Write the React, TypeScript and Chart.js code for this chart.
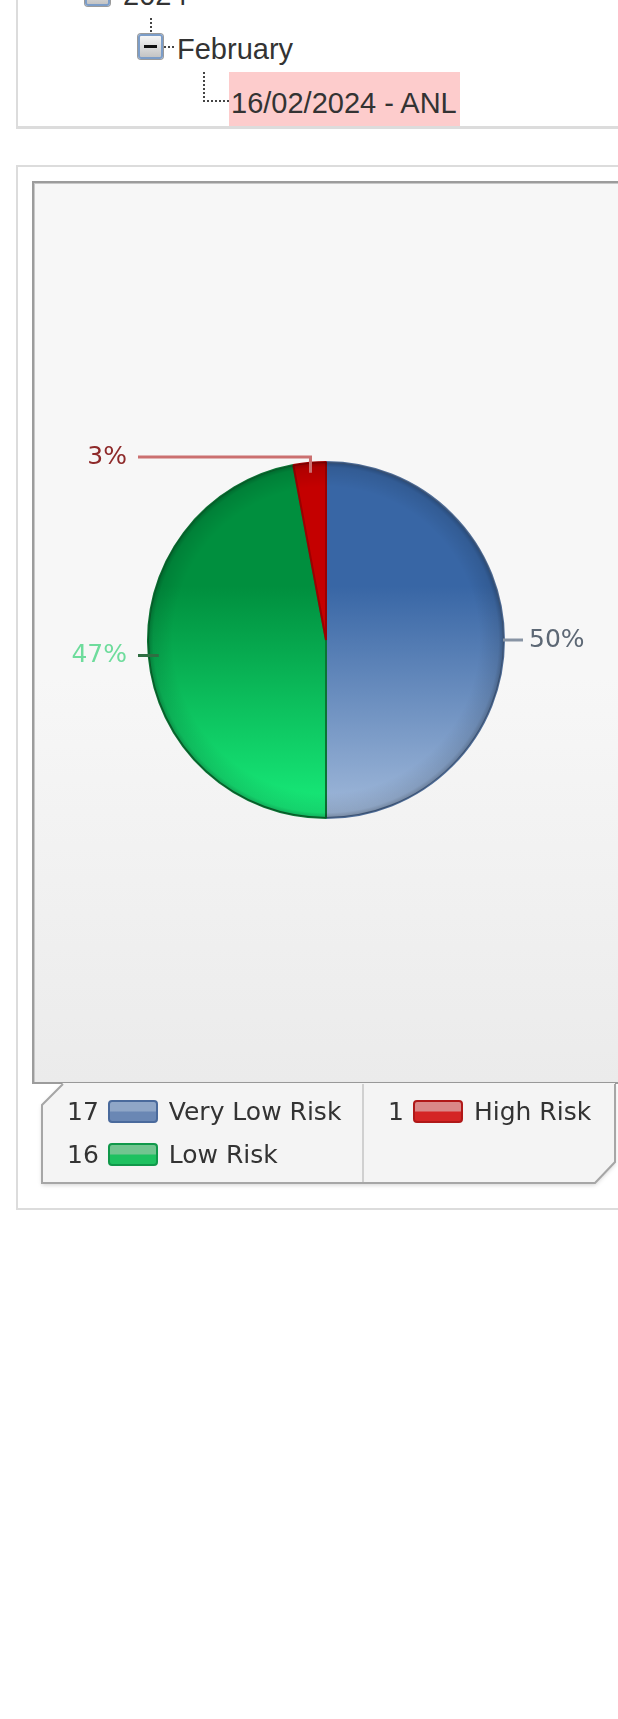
import React, { useEffect, useRef } from "react";
import { Chart, registerables } from "chart.js";

Chart.register(...registerables);

// ---- data ----
const categories = ["Very Low Risk", "Low Risk", "High Risk"];
const counts = [17, 16, 1];
const sliceTop = ["#3866a5", "#008f3e", "#c40000"];
const sliceBottom = ["#a2badb", "#18ee7b", "#dc0c0c"];
const sliceBorder = ["#4e6c97", "#0b7434", "#9c0000"];
const labelColors = ["#5d6875", "#6edc9c", "#8e2a2a"];
const leaderColors = ["#8894a4", "#2f6e42", "#cb7070"];
const swatchLight = ["#8fa6c7", "#72c590", "#da8888"];
const swatchDark = ["#6a87b4", "#1ec160", "#d42424"];
const swatchBorder = ["#4a6a9c", "#10984a", "#b01818"];
const legendColumns = [[0, 1], [2]];
const treeYear = "2024";
const treeMonth = "February";
const treeEntry = "16/02/2024 - ANL";

const labelFont = "25px 'DejaVu Sans'";

const pieDecor = {
  id: "pieDecor",
  afterDatasetsDraw(chart: any) {
    const meta = chart.getDatasetMeta(0);
    const arcs = meta.data;
    if (!arcs.length) return;
    const ctx = chart.ctx;
    const cx = arcs[0].x;
    const cy = arcs[0].y;
    const r = arcs[0].outerRadius;
    // edge shading
    ctx.save();
    ctx.beginPath();
    ctx.arc(cx, cy, r, 0, Math.PI * 2);
    ctx.clip();
    const g = ctx.createRadialGradient(cx, cy, 0, cx, cy, r);
    g.addColorStop(0, "rgba(0,0,0,0)");
    g.addColorStop(0.86, "rgba(0,0,0,0)");
    g.addColorStop(0.97, "rgba(0,0,0,0.10)");
    g.addColorStop(1, "rgba(0,0,0,0.28)");
    ctx.fillStyle = g;
    ctx.fillRect(cx - r, cy - r, 2 * r, 2 * r);
    ctx.restore();

    const values: number[] = chart.data.datasets[0].data;
    const total = values.reduce((a, b) => a + b, 0);
    ctx.save();
    ctx.font = labelFont;
    ctx.textBaseline = "middle";
    arcs.forEach((arc: any, i: number) => {
      const mid = (arc.startAngle + arc.endAngle) / 2;
      const c = Math.cos(mid);
      const s = Math.sin(mid);
      const pct = Math.round((values[i] / total) * 100) + "%";
      ctx.strokeStyle = leaderColors[i];
      ctx.lineWidth = 3;
      ctx.fillStyle = labelColors[i];
      ctx.beginPath();
      if (c >= 0) {
        const ax = cx + r * c;
        const ay = cy + r * s;
        ctx.moveTo(ax - 1, ay);
        ctx.lineTo(cx + r + 19, ay);
        ctx.stroke();
        ctx.textAlign = "left";
        ctx.fillText(pct, cx + r + 25, ay);
      } else {
        const ax = cx + (r - 10) * c;
        const ay = cy + (r - 10) * s;
        let ly = ay;
        ctx.moveTo(ax, ay);
        if (Math.abs(c) < 0.3) {
          ly = s < 0 ? cy - r - 5 : cy + r + 5;
          ctx.lineTo(ax, ly);
        }
        ctx.lineTo(cx - r - 10, ly);
        ctx.stroke();
        ctx.textAlign = "right";
        ctx.fillText(pct, cx - r - 21, ly);
      }
    });
    ctx.restore();
  },
};

function Icon({ left, top }: { left: number; top: number }) {
  return (
    <div
      style={{
        position: "absolute",
        left,
        top,
        width: 25,
        height: 25,
        boxSizing: "border-box",
        border: "2px solid #7c9dc8",
        borderRadius: 3,
        background: "linear-gradient(#f6f6f6, #c4c4c4)",
        boxShadow: "0 0 0 1px #9a9a9a",
      }}
    >
      <div
        style={{
          position: "absolute",
          left: 4,
          top: 9,
          width: 13,
          height: 3,
          background: "#111",
        }}
      />
    </div>
  );
}

export default function App() {
  const canvasRef = useRef<HTMLCanvasElement | null>(null);

  useEffect(() => {
    const canvas = canvasRef.current;
    if (!canvas) return;
    const chart = new Chart(canvas, {
      type: "pie",
      data: {
        labels: categories,
        datasets: [
          {
            data: counts,
            backgroundColor: (ctx: any) => {
              const ch = ctx.chart;
              const area = ch.chartArea;
              const i = ctx.dataIndex;
              if (!area) return sliceTop[i];
              const g = ch.ctx.createLinearGradient(0, area.top, 0, area.bottom);
              g.addColorStop(0, sliceTop[i]);
              g.addColorStop(0.35, sliceTop[i]);
              g.addColorStop(1, sliceBottom[i]);
              return g;
            },
            borderColor: sliceBorder,
            borderWidth: 2,
          },
        ],
      },
      options: {
        responsive: false,
        animation: false,
        events: [],
        layout: { padding: { left: 113, top: 278, right: 113, bottom: 262 } },
        plugins: {
          legend: { display: false },
          tooltip: { enabled: false },
        },
      },
      plugins: [pieDecor],
    });
    return () => chart.destroy();
  }, []);

  const treeFont: React.CSSProperties = {
    position: "absolute",
    fontFamily: "'Liberation Sans', Arial, sans-serif",
    fontSize: 29,
    lineHeight: "32px",
    color: "#333",
    whiteSpace: "nowrap",
  };

  const legendRows = legendColumns;
  const colLeft = [67, 388];
  const rowTop = [1097, 1140];

  return (
    <div
      style={{
        position: "absolute",
        left: 0,
        top: 0,
        width: 618,
        height: 1719,
        overflow: "hidden",
        background: "#fff",
      }}
    >
      {/* top tree box */}
      <div
        style={{
          position: "absolute",
          left: 16,
          top: -60,
          width: 700,
          height: 189,
          boxSizing: "border-box",
          borderLeft: "2px solid #dcdcdc",
          borderBottom: "3px solid #dcdcdc",
        }}
      />
      <Icon left={85} top={-19} />
      <div style={{ ...treeFont, left: 123, top: -21 }}>{treeYear}</div>
      <div
        style={{
          position: "absolute",
          left: 150,
          top: 18,
          height: 14,
          borderLeft: "2px dotted #444",
        }}
      />
      <Icon left={138} top={34} />
      <div
        style={{
          position: "absolute",
          left: 164,
          top: 46,
          width: 10,
          borderTop: "2px dotted #444",
        }}
      />
      <div style={{ ...treeFont, left: 177, top: 33 }}>{treeMonth}</div>
      <div
        style={{
          position: "absolute",
          left: 203,
          top: 72,
          width: 24,
          height: 28,
          borderLeft: "2px dotted #444",
          borderBottom: "2px dotted #444",
        }}
      />
      <div
        style={{
          position: "absolute",
          left: 229,
          top: 72,
          width: 231,
          height: 54,
          background: "#fdcccc",
        }}
      />
      <div style={{ ...treeFont, left: 231, top: 87 }}>{treeEntry}</div>

      {/* chart container */}
      <div
        style={{
          position: "absolute",
          left: 16,
          top: 165,
          width: 700,
          height: 1045,
          boxSizing: "border-box",
          border: "2px solid #dcdcdc",
          background: "#fff",
        }}
      />
      <div
        style={{
          position: "absolute",
          left: 32,
          top: 181,
          width: 640,
          height: 903,
          boxSizing: "border-box",
          border: "2px solid #9c9c9c",
          boxShadow: "inset 1px 1px 0 #c8c8c8",
          background:
            "linear-gradient(to bottom, #f7f7f7 0%, #f7f7f7 55%, #ebebeb 100%)",
        }}
      />
      <canvas
        ref={canvasRef}
        width={584}
        height={898}
        style={{ position: "absolute", left: 34, top: 183, width: 584, height: 898 }}
      />

      {/* legend box */}
      <svg
        style={{ position: "absolute", left: 0, top: 1080 }}
        width={618}
        height={115}
        viewBox="0 1080 618 115"
      >
        <defs>
          <filter id="sh" x="-5%" y="-20%" width="110%" height="150%">
            <feDropShadow dx="0" dy="2" stdDeviation="2" floodColor="#000" floodOpacity="0.18" />
          </filter>
        </defs>
        <polygon
          points="42,1105 63,1083 640,1083 640,1083 615,1083 615,1162 595,1183 42,1183"
          fill="#f4f4f4"
          filter="url(#sh)"
        />
        <polyline
          points="63,1084 42,1105 42,1183 595,1183 615,1162 615,1084"
          fill="none"
          stroke="#a6a6a6"
          strokeWidth={2}
        />
        <line x1={363} y1={1084} x2={363} y2={1182} stroke="#c4c4c4" strokeWidth={1.5} />
      </svg>
      {legendRows.map((col, ci) =>
        col.map((idx, ri) => (
          <div
            key={idx}
            style={{
              position: "absolute",
              left: colLeft[ci],
              top: rowTop[ri],
              height: 29,
              display: "flex",
              alignItems: "center",
              fontFamily: "'DejaVu Sans', Verdana, sans-serif",
              fontSize: 25,
              lineHeight: "29px",
              color: "#333",
              whiteSpace: "nowrap",
            }}
          >
            <span>{counts[idx]}</span>
            <span
              style={{
                display: "inline-block",
                width: 50,
                height: 23,
                marginLeft: 9,
                marginRight: 11,
                boxSizing: "border-box",
                border: `2px solid ${swatchBorder[idx]}`,
                borderRadius: 4,
                background: `linear-gradient(to bottom, ${swatchLight[idx]} 0%, ${swatchLight[idx]} 48%, ${swatchDark[idx]} 52%, ${swatchDark[idx]} 100%)`,
              }}
            />
            <span>{categories[idx]}</span>
          </div>
        ))
      )}
    </div>
  );
}
